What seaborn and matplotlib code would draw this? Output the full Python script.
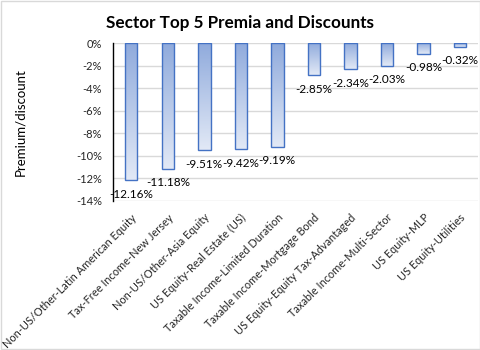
import numpy as np
import pandas as pd
import matplotlib
matplotlib.use("Agg")
import matplotlib.pyplot as plt
import seaborn as sns
from matplotlib.colors import LinearSegmentedColormap
from matplotlib.patches import Rectangle

sectors = [
    "Non-US/Other-Latin American Equity",
    "Tax-Free Income-New Jersey",
    "Non-US/Other-Asia Equity",
    "US Equity-Real Estate (US)",
    "Taxable Income-Limited Duration",
    "Taxable Income-Mortgage Bond",
    "US Equity-Equity Tax-Advantaged",
    "Taxable Income-Multi-Sector",
    "US Equity-MLP",
    "US Equity-Utilities",
]
premium = [-12.16, -11.18, -9.51, -9.42, -9.19, -2.85, -2.34, -2.03, -0.98, -0.32]
y_ticks = [0, -2, -4, -6, -8, -10, -12, -14]

df = pd.DataFrame({"sector": sectors, "premium": premium})

sns.set_theme(style="white")
plt.rcParams["font.family"] = ["Lato", "DejaVu Sans"]

fig = plt.figure(figsize=(4.81, 3.5), dpi=100)
ax = fig.add_axes([0.235, 0.426, 0.759, 0.451])

sns.barplot(data=df, x="sector", y="premium", ax=ax, width=0.34,
            color="#8faadc", edgecolor="#4472c4", linewidth=1.0,
            saturation=1)

# vertical gradient fill inside each bar
grad = LinearSegmentedColormap.from_list("bar", ["#8faadc", "#e2e9f6"])
ramp = np.linspace(0, 1, 256).reshape(-1, 1)
for patch in ax.patches:
    x0, y0 = patch.get_x(), patch.get_y()
    w, h = patch.get_width(), patch.get_height()
    top, bot = max(y0, y0 + h), min(y0, y0 + h)
    im = ax.imshow(ramp, cmap=grad, aspect="auto", origin="upper",
                   extent=[x0, x0 + w, bot, top], zorder=patch.get_zorder())
    im.set_clip_path(patch)
    patch.set_facecolor("none")
    patch.set_zorder(patch.get_zorder() + 0.1)

ax.set_xlim(-0.5, len(sectors) - 0.5)
ax.set_ylim(-14, 0)
ax.set_yticks(y_ticks)
ax.set_yticklabels([f"{t}%" for t in y_ticks], fontsize=8, color="#262626")
ax.yaxis.grid(True, color="#d9d9d9", linewidth=1.0)
ax.set_axisbelow(True)
for s in ["top", "right", "bottom"]:
    ax.spines[s].set_visible(False)
ax.spines["left"].set_color("black")
ax.spines["left"].set_linewidth(1.0)
ax.spines["left"].set_zorder(5)
ax.tick_params(axis="y", length=0, pad=8)
ax.tick_params(axis="x", length=0, pad=8)
ax.set_xticks(range(len(sectors)))
ax.set_xticklabels(sectors, rotation=45, ha="right", rotation_mode="anchor",
                   fontsize=7.9, color="#262626")
ax.set_xlabel("")
ax.set_ylabel("Premium/discount", fontsize=9.5, color="black", labelpad=36)

for i, v in enumerate(premium):
    ax.annotate(f"{v:.2f}%", (i, v), xytext=(0, -10), textcoords="offset points",
                ha="center", va="center", fontsize=8.5, color="black", zorder=6)

fig.text(0.5, 0.933, "Sector Top 5 Premia and Discounts", ha="center",
         va="center", fontsize=12.3, fontweight="bold", color="black")

fig.patches.append(Rectangle((0.002, 0.003), 0.996, 0.994, transform=fig.transFigure,
                             fill=False, edgecolor="#d9d9d9", linewidth=1.0))

fig.savefig("out.png", dpi=100)
